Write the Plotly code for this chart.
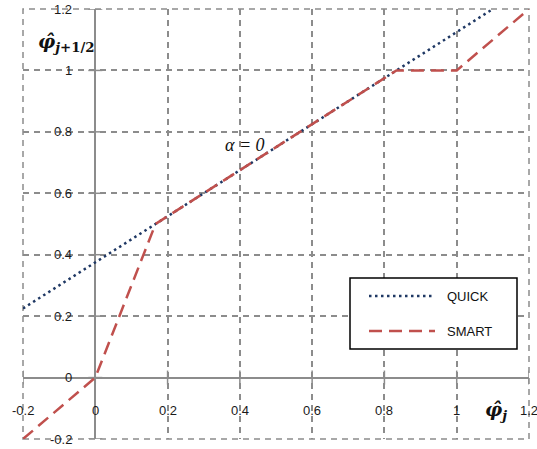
import plotly.graph_objects as go

# ---- data ----
quick_x = [-0.2, 1.1]
quick_y = [0.225, 1.2]
smart_x = [-0.2, 0.0, 1/6, 5/6, 1.0, 1.2]
smart_y = [-0.2, 0.0, 0.5, 1.0, 1.0, 1.2]
series_names = ["QUICK", "SMART"]
tick_vals = [-0.2, 0, 0.2, 0.4, 0.6, 0.8, 1, 1.2]
x_tick_labels = ["-0.2", "0", "0.2", "0.4", "0.6", "0.8", "1", "1.2"]
y_tick_labels = ["-0.2", "0", "0.2", "0.4", "0.6", "0.8", "1", "1.2"]

NAVY = "#1F3864"
RED = "#C0504D"
GRID = "#8C8C8C"
TICKFONT = dict(family="Liberation Sans, Arial", size=13, color="#1a1a1a")

fig = go.Figure()

# small tick marks on the axes at grid crossings
fig.add_trace(go.Scatter(x=tick_vals, y=[0]*len(tick_vals), mode="markers",
                         marker=dict(symbol="line-ns", size=10, line=dict(color="#8C8C8C", width=1.5)),
                         showlegend=False, hoverinfo="skip"))
fig.add_trace(go.Scatter(x=[0]*len(tick_vals), y=tick_vals, mode="markers",
                         marker=dict(symbol="line-ew", size=10, line=dict(color="#8C8C8C", width=1.5)),
                         showlegend=False, hoverinfo="skip"))

fig.add_trace(go.Scatter(x=quick_x, y=quick_y, mode="lines", name=series_names[0],
                         line=dict(color=NAVY, width=2.5, dash="2.5px,3.5px"), showlegend=False))
fig.add_trace(go.Scatter(x=smart_x, y=smart_y, mode="lines", name=series_names[1],
                         line=dict(color=RED, width=2.5, dash="13px,7px"), showlegend=False))

axis_common = dict(range=[-0.2, 1.2], tickvals=tick_vals, showticklabels=False,
                   showgrid=True, gridcolor=GRID, gridwidth=1.5, griddash="6px,5px",
                   zeroline=True, zerolinecolor="#8C8C8C", zerolinewidth=1.8,
                   showline=False, ticks="")
fig.update_xaxes(**axis_common)
fig.update_yaxes(**axis_common)

ann = []
for v, t in zip(tick_vals, x_tick_labels):
    ann.append(dict(x=v, y=-0.106, xref="x", yref="y", text=t, showarrow=False,
                    font=TICKFONT, xanchor="center", yanchor="middle"))
for v, t in zip(tick_vals, y_tick_labels):
    ann.append(dict(x=-0.058, y=v, xref="x", yref="y", text=t, showarrow=False,
                    font=TICKFONT, xanchor="right", yanchor="middle"))

# axis titles
ann.append(dict(x=-0.08, y=1.09, xref="x", yref="y",
                text="<b><i>φ̂</i></b><sub><b><i>j</i>+1/2</b></sub>", showarrow=False,
                font=dict(family="DejaVu Serif", size=19, color="#111"), xanchor="center", yanchor="middle"))
ann.append(dict(x=1.11, y=-0.106, xref="x", yref="y",
                text="<b><i>φ̂</i></b><sub><b><i>j</i></b></sub>", showarrow=False,
                font=dict(family="DejaVu Serif", size=19, color="#111"), xanchor="center", yanchor="middle"))
ann.append(dict(x=0.414, y=0.757, xref="x", yref="y", text="<i>α = 0</i>", showarrow=False,
                font=dict(family="Liberation Serif", size=18, color="#111"), xanchor="center", yanchor="middle"))

# manual legend
W, H, L, T = 537, 449, 23, 9
pw, ph = W - L - 8, H - T - 10
def px(xp): return (xp - L) / pw
def py(yp): return 1 - (yp - T) / ph

shapes = [
    # dashed frame at the outer grid positions
    dict(type="rect", xref="paper", yref="paper", x0=0, x1=1, y0=0, y1=1,
         line=dict(color=GRID, width=1.5, dash="6px,5px"), layer="below"),
    dict(type="rect", xref="paper", yref="paper", x0=px(350), x1=px(517), y0=py(349), y1=py(278),
         line=dict(color="black", width=1.5), fillcolor="white", layer="above"),
]
legend_styles = [dict(color=NAVY, width=2.5, dash="2.5px,3.5px"), dict(color=RED, width=2.5, dash="13px,7px")]
for i, (name, st) in enumerate(zip(series_names, legend_styles)):
    yy = 296 + i * 35
    shapes.append(dict(type="line", xref="paper", yref="paper", x0=px(369), x1=px(435), y0=py(yy), y1=py(yy),
                       line=st, layer="above"))
    ann.append(dict(x=px(445), y=py(yy), xref="paper", yref="paper", text=name, showarrow=False,
                    font=dict(family="Liberation Sans, Arial", size=13, color="#111"),
                    xanchor="left", yanchor="middle"))

fig.update_layout(width=W, height=H, margin=dict(l=L, r=8, t=T, b=10),
                  plot_bgcolor="white", paper_bgcolor="white",
                  annotations=ann, shapes=shapes, showlegend=False)

fig.write_html("out.html")
